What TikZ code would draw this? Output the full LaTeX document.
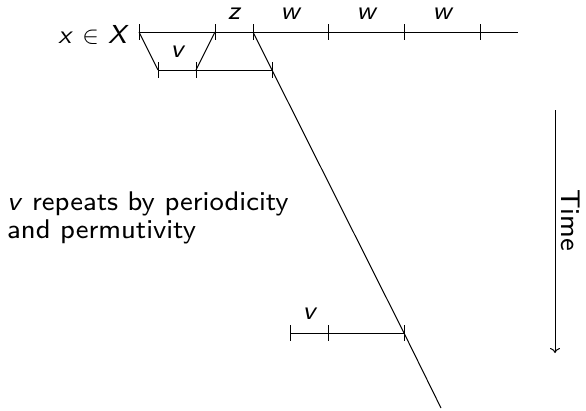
\documentclass[tikz,border=0pt]{standalone}
\usepackage{fontspec}
\newfontfamily\smallss{lmsans8-regular.otf}[ItalicFont=lmsans8-oblique.otf]
\usetikzlibrary{arrows.meta}
\begin{document}
\begin{tikzpicture}[x=1pt,y=-1pt,
  seg/.style={line width=1pt},
  tick/.style={line width=1pt},
  lab/.style={font=\smallss\itshape\fontsize{26}{28}\selectfont, inner sep=0pt},
  txt/.style={font=\smallss\fontsize{27}{28}\selectfont, inner sep=0pt, align=left}]
\useasboundingbox (0,0) rectangle (586,410);
% top line ticks
\foreach \n/\x in {a/139,b/215,c/253,d/328,e/404,f/480}{
  \coordinate (t\n) at (\x,32);
  \draw[tick] (\x,24) -- (\x,40);
}
\coordinate (tend) at (518,32);
\draw[seg] (ta) -- (tend);
% second line
\foreach \n/\x in {a/158,b/196,c/272}{
  \coordinate (s\n) at (\x,70);
  \draw[tick] (\x,62) -- (\x,78);
}
\draw[seg] (sa) -- (sc);
% bottom line
\foreach \n/\x in {a/290,b/328,c/404}{
  \coordinate (u\n) at (\x,333);
  \draw[tick] (\x,325) -- (\x,341);
}
\draw[seg] (ua) -- (uc);
% connectors
\draw[seg] (ta) -- (sa);
\draw[seg] (tb) -- (sb);
\coordinate (lend) at (441,408);
\draw[seg] (tc) -- (sc) -- (uc) -- (lend);
% labels
\node[lab] (lz) at (234,14) {z};
\node[lab] (lw1) at (290,14) {w};
\node[lab] (lw2) at (366,14) {w};
\node[lab] (lw3) at (442,14) {w};
\node[lab] (lv1) at (177,52) {v};
\node[lab] (lv2) at (309,314) {v};
\node[font=\smallss\fontsize{26}{28}\selectfont, inner sep=0pt, anchor=base east] (xx) at (129,43) {\textit{x} $\in$ \textit{X}};
\node[txt, anchor=base west] (desc) at (7,238) {\textit{v} repeats by periodicity\\and permutivity};
% time arrow
\coordinate (ta1) at (555,110);
\coordinate (ta2) at (555,353);
\draw[line width=1pt, -{To[length=5pt,width=10pt]}] (ta1) -- (ta2);
\node[font=\smallss\fontsize{27}{28}\selectfont, rotate=-90, inner sep=0pt] (time) at (571,220) {Time};
\end{tikzpicture}
\end{document}
